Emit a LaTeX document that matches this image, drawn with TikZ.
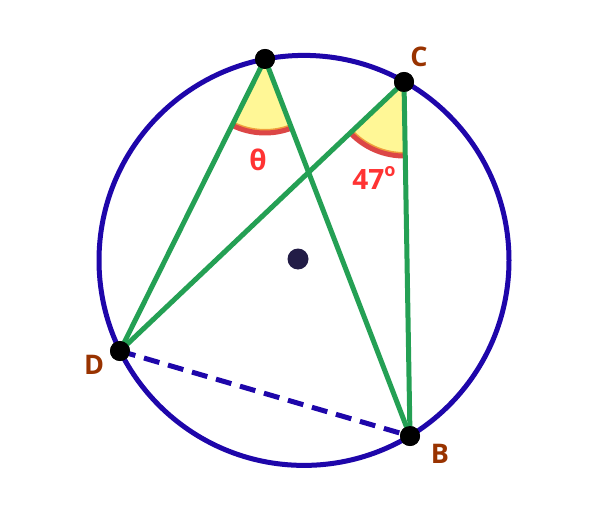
\documentclass[tikz,border=0pt]{standalone}
\usepackage{fontspec}
\setmainfont{Open Sans}
\definecolor{circblue}{RGB}{30,6,170}
\definecolor{lgreen}{RGB}{36,160,84}
\definecolor{lbrown}{RGB}{153,51,0}
\definecolor{lred}{RGB}{255,51,51}
\definecolor{arcred}{RGB}{220,70,70}
\definecolor{arcorange}{RGB}{240,160,60}
\definecolor{syellow}{RGB}{255,247,150}
\definecolor{cdot}{RGB}{34,28,70}
\tikzset{
  dotpt/.style={circle,fill=black,minimum size=20pt,inner sep=0pt},
  chord/.style={draw=lgreen,line width=5pt},
  ptlabel/.style={text=lbrown,font=\bfseries\fontsize{27}{30}\selectfont,inner sep=0pt},
  anglabel/.style={text=lred,font=\bfseries\fontsize{28}{32}\selectfont,inner sep=0pt},
}
\begin{document}
\begin{tikzpicture}[x=1pt,y=1pt]
\useasboundingbox (0,0) rectangle (589,507);
\fill[white] (0,0) rectangle (589,507);
% points
\coordinate (O) at (304,246.6);
\coordinate (A) at (265,448);
\coordinate (C) at (404,425);
\coordinate (D) at (120,156);
\coordinate (B) at (410,71);
% sectors
\fill[syellow] (A) -- ++(243.6:75) arc[start angle=243.6,end angle=291,radius=75] -- cycle;
\fill[syellow] (C) -- ++(223.5:75) arc[start angle=223.5,end angle=271,radius=75] -- cycle;
\draw[arcorange,line width=2pt] ([shift={(243.6:71)}]A) arc[start angle=243.6,end angle=291,radius=71];
\draw[arcorange,line width=2pt] ([shift={(223.5:71)}]C) arc[start angle=223.5,end angle=271,radius=71];
\draw[arcred,line width=5pt] ([shift={(243.6:74)}]A) arc[start angle=243.6,end angle=291,radius=74];
\draw[arcred,line width=5pt] ([shift={(223.5:74)}]C) arc[start angle=223.5,end angle=271,radius=74];
% circle
\draw[circblue,line width=5pt] (O) circle[radius=205];
% dots
\node[dotpt] (nA) at (A) {};
\node[dotpt] (nC) at (C) {};
\node[dotpt] (nD) at (D) {};
\node[dotpt] (nB) at (B) {};
% chords
\draw[chord] (nA.center) -- (nD.center);
\draw[chord] (nA.center) -- (nB.center);
\draw[chord] (nC.center) -- (nD.center);
\draw[chord] (nC.center) -- (nB.center);
\draw[circblue,line width=5pt,dash pattern=on 16pt off 9pt] (nD.center) -- (nB.center);
% redraw dots on top
\fill[black] (A) circle[radius=10];
\fill[black] (C) circle[radius=10];
\fill[black] (D) circle[radius=10];
\fill[black] (B) circle[radius=10];
\node[circle,fill=cdot,minimum size=21pt,inner sep=0pt] (ctr) at (298,248) {};
% labels
\node[ptlabel] (lC) at (419,450) {C};
\node[ptlabel] (lD) at (94,142) {D};
\node[ptlabel] (lB) at (440,53) {B};
\node[anglabel] (lt) at (258,347) {θ};
\node[anglabel] (l47) at (374,329) {47\raisebox{0.8ex}{\fontsize{18}{20}\selectfont o}};
\end{tikzpicture}
\end{document}
